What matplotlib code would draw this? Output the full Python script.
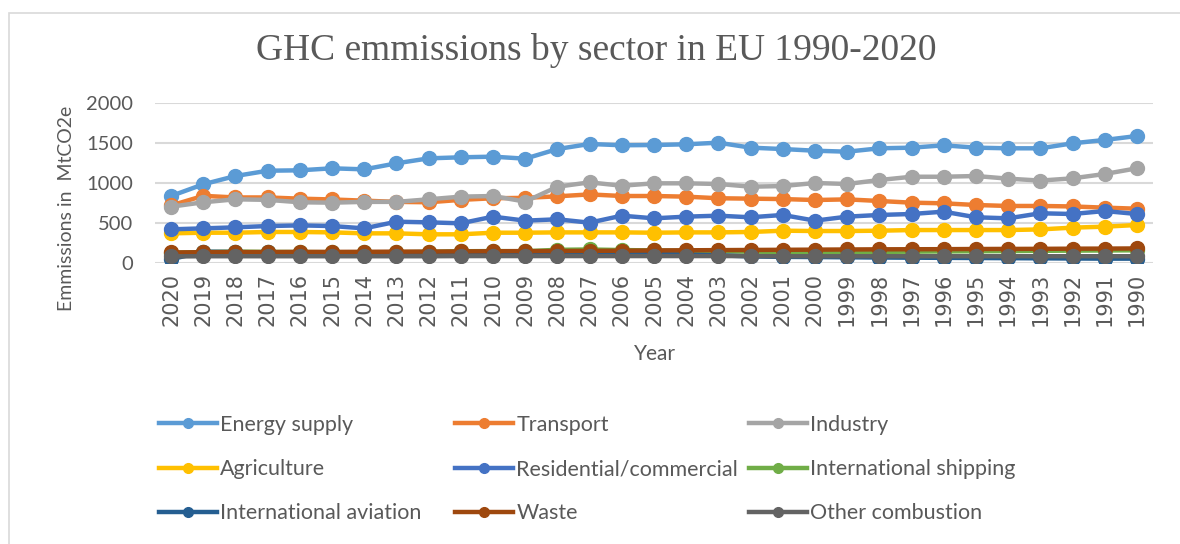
import matplotlib
matplotlib.use("Agg")
import matplotlib.pyplot as plt
from matplotlib.lines import Line2D
from matplotlib.patches import Rectangle

years = list(range(2020, 1989, -1))

energy_supply = [838, 984, 1087, 1153, 1158, 1183, 1170, 1245, 1307, 1320, 1328, 1303, 1423, 1486, 1470,
                 1473, 1482, 1502, 1440, 1423, 1402, 1390, 1432, 1440, 1469, 1440, 1432, 1432, 1494, 1536, 1585]
transport = [720, 840, 820, 820, 805, 795, 780, 765, 760, 790, 810, 815, 834, 858, 838,
             838, 830, 810, 805, 800, 788, 796, 776, 755, 747, 726, 714, 714, 708, 693, 680]
industry = [705, 760, 797, 790, 760, 755, 765, 765, 797, 830, 838, 768, 954, 1008, 966,
            996, 996, 988, 954, 962, 1000, 988, 1037, 1078, 1078, 1087, 1054, 1030, 1058, 1112, 1183]
agriculture = [373, 381, 381, 390, 390, 385, 373, 373, 361, 361, 381, 381, 385, 385, 385,
               381, 385, 385, 390, 406, 402, 402, 406, 414, 414, 414, 414, 422, 444, 456, 477]
residential = [423, 435, 448, 464, 472, 464, 435, 518, 510, 498, 581, 531, 548, 506, 593,
               560, 581, 593, 573, 602, 531, 581, 602, 614, 643, 573, 560, 623, 614, 651, 614]
shipping = [130, 140, 145, 142, 140, 138, 135, 138, 142, 150, 152, 150, 168, 172, 165,
            160, 155, 148, 145, 142, 140, 140, 142, 145, 148, 150, 152, 155, 158, 160, 162]
aviation = [50, 145, 140, 135, 128, 124, 120, 118, 118, 122, 120, 118, 125, 128, 125,
            115, 110, 100, 85, 80, 78, 75, 72, 70, 68, 66, 64, 62, 60, 58, 58]
waste = [135, 138, 140, 140, 142, 142, 143, 145, 146, 148, 150, 152, 153, 155, 157,
         160, 162, 164, 166, 168, 170, 172, 174, 175, 176, 178, 179, 180, 182, 183, 185]
other_combustion = [85, 88, 88, 88, 88, 88, 88, 88, 88, 90, 90, 90, 90, 90, 90,
                    90, 90, 90, 90, 88, 88, 88, 88, 88, 88, 88, 88, 88, 88, 88, 88]

series = [
    ("Energy supply", energy_supply, "#5B9BD5"),
    ("Transport", transport, "#ED7D31"),
    ("Industry", industry, "#A5A5A5"),
    ("Agriculture", agriculture, "#FFC000"),
    ("Residential/commercial", residential, "#4472C4"),
    ("International shipping", shipping, "#70AD47"),
    ("International aviation", aviation, "#255E91"),
    ("Waste", waste, "#9E480E"),
    ("Other combustion", other_combustion, "#636363"),
]

W, H = 1180, 544
fig = plt.figure(figsize=(W / 100, H / 100), dpi=100)
txt = "#595959"

# chart border like an Excel chart area
fig.patches.append(Rectangle((9 / W, -0.1), 1.2, 1 - 13 / H + 0.1, transform=fig.transFigure,
                             fill=False, edgecolor="#D9D9D9", lw=1.2))

ax = fig.add_axes([155 / W, 1 - 263.3 / H, 998 / W, 160.6 / H])
x = list(range(len(years)))
for name, vals, col in series:
    ax.plot(x, vals, color=col, lw=3.2, marker="o", markersize=10, label=name)

ax.set_xlim(-0.5, len(years) - 0.5)
ax.set_ylim(0, 2000)
ax.set_yticks([0, 500, 1000, 1500, 2000])
ax.set_xticks(x)
ax.set_xticklabels([str(y) for y in years], rotation=90, fontsize=15, color=txt,
                   family="DejaVu Sans")
ax.tick_params(axis="y", length=0, pad=16, labelsize=14.5, labelcolor=txt)
ax.tick_params(axis="x", length=0, pad=7)
for lab in ax.get_yticklabels():
    lab.set_family("Lato")
ax.grid(axis="y", color="#D9D9D9", lw=1.5)
ax.set_axisbelow(True)
for s in ax.spines.values():
    s.set_visible(False)

fig.text(596 / W, 1 - 50 / H, "GHC emmissions by sector in EU 1990-2020", ha="center", va="center",
         fontsize=27, family="Liberation Serif", color=txt)
fig.text(66 / W, 1 - 208 / H, "Emmissions in  MtCO2e", rotation=90, ha="center", va="center",
         fontsize=14, family="Lato", color=txt)
fig.text(655 / W, 1 - 354 / H, "Year", ha="center", va="center", fontsize=15, family="Lato", color=txt)

# legend: three columns placed like the Excel legend
col_x = [159, 455, 749]
for c in range(3):
    handles = []
    for r in range(3):
        name, vals, col = series[c + 3 * r]
        handles.append(Line2D([], [], color=col, lw=3.2, marker="o", markersize=7, label=name))
    fig.legend(handles=handles, loc="upper left", bbox_to_anchor=(col_x[c] / W, 1 - 415 / H),
               frameon=False, borderpad=0, borderaxespad=0, handlelength=2.7, handletextpad=0.15,
               labelspacing=1.12, prop={"family": "Lato", "size": 15.5}, labelcolor=txt)

fig.savefig("out.png", dpi=100)
